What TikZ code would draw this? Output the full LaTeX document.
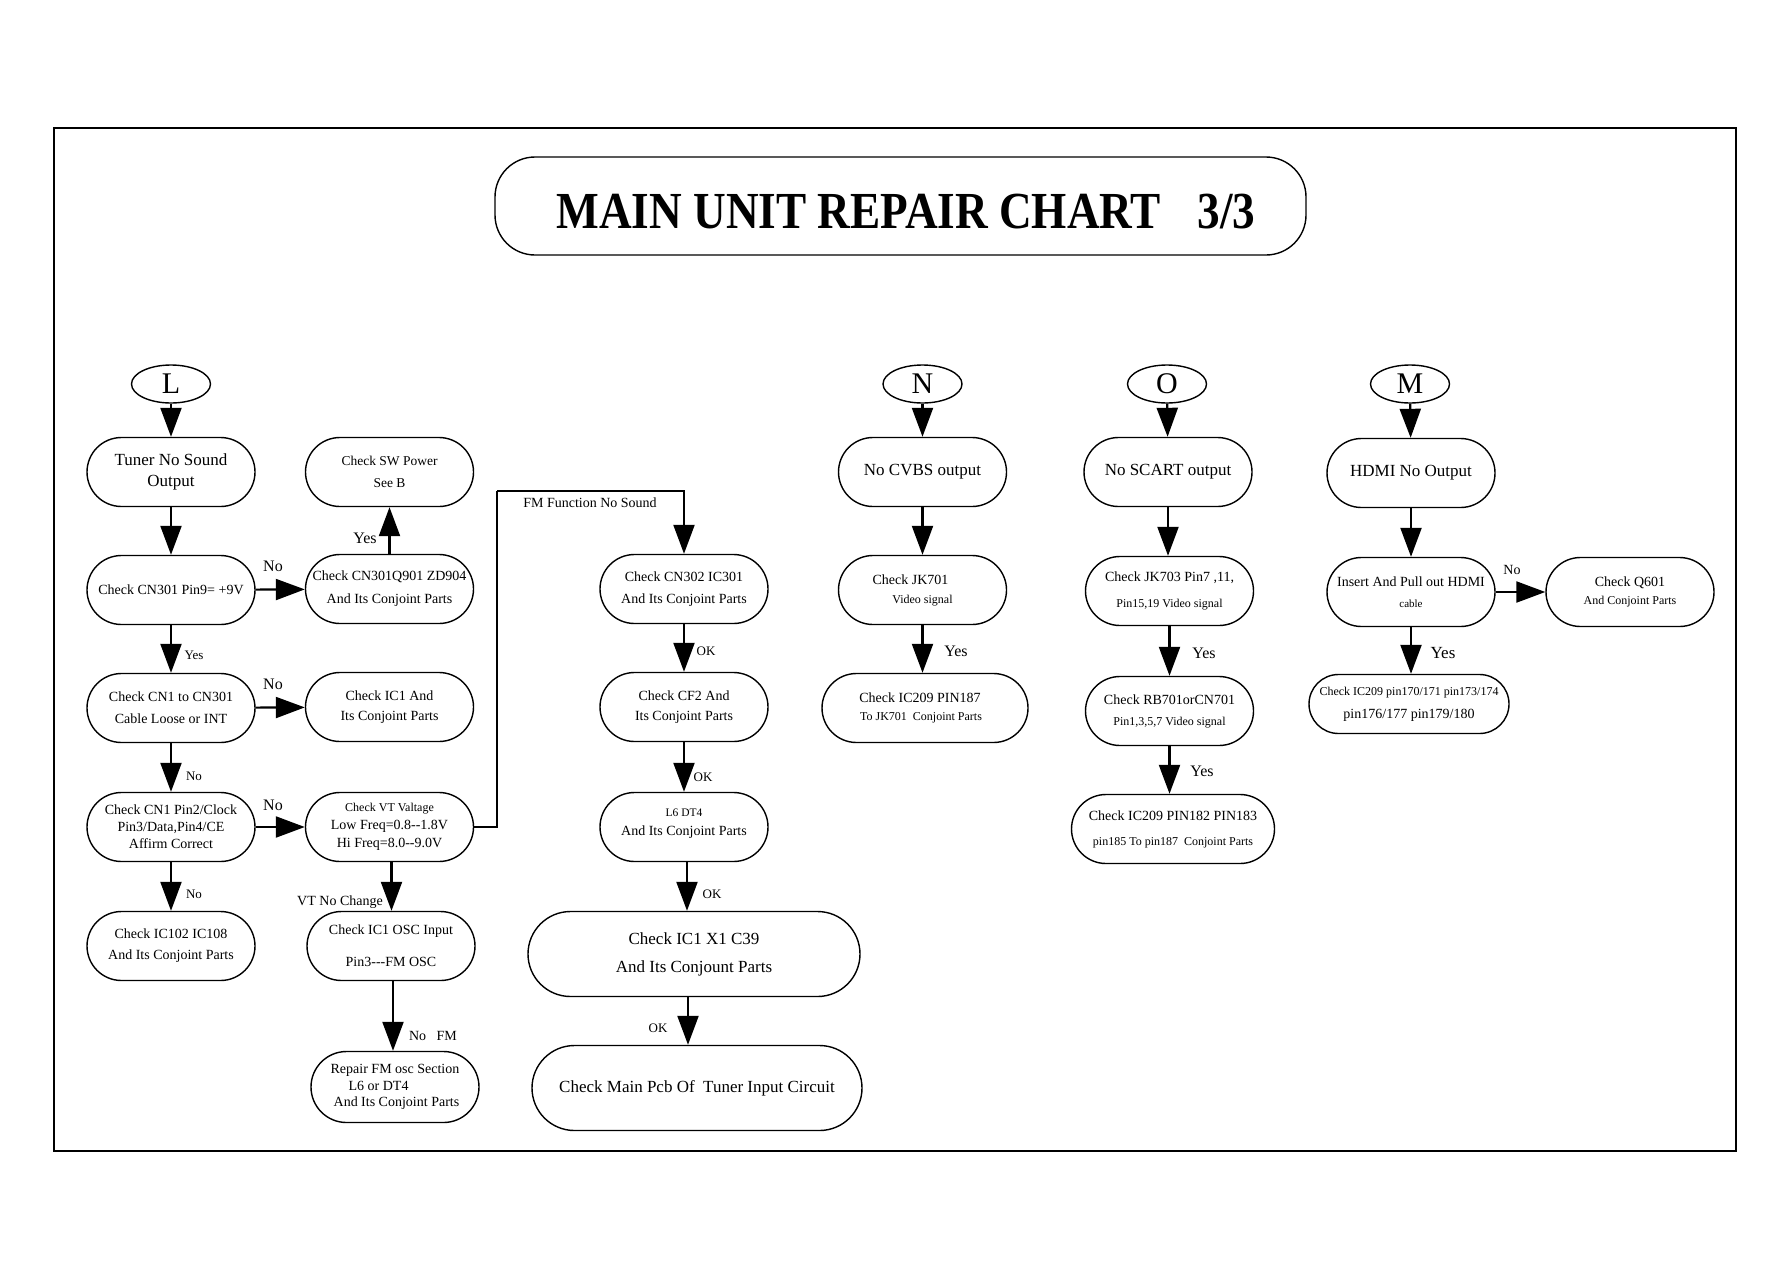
\documentclass[tikz,border=0pt]{standalone}
\usepackage{graphicx}
\usepackage{fontspec}
\setmainfont{Liberation Serif}
\usetikzlibrary{arrows.meta,shapes.geometric}
\newcommand{\fsz}[2]{\fontsize{#1}{#2}\selectfont}
\begin{document}
\begin{tikzpicture}[x=1pt,y=-1pt,
  box/.style={draw, line width=1.4pt, rounded corners=34.5pt, minimum width=168pt, minimum height=69pt, inner sep=0pt, align=center, font=\fsz{14}{21}},
  ell/.style={draw, ellipse, line width=1.4pt, minimum width=79pt, minimum height=38pt, inner sep=0pt, font=\fsz{30}{30}},
  arr/.style={line width=2.2pt, -{Triangle[length=29pt,width=21pt]}},
  conn/.style={line width=2.2pt},
  lbl/.style={inner sep=0pt, font=\fsz{16}{16}},
  slbl/.style={inner sep=0pt, font=\fsz{13}{13}},
]
\useasboundingbox (0,0) rectangle (1787,1263);
\fill[white] (0,0) rectangle (1787,1263);
\draw[line width=1.8pt] (54,128) rectangle (1736,1151);

% title
\node[draw, line width=1.4pt, rounded corners=40pt, minimum width=811pt, minimum height=98pt, inner sep=0pt] (title) at (900.5,206) {};
\node[anchor=base, inner sep=0pt] (titletext) at (906,228) {\scalebox{0.87}[1]{\fsz{52}{60}\bfseries MAIN UNIT REPAIR CHART\hspace{42pt}3/3}};

% column L
\node[ell] (L) at (171,384) {L};
\node[box, font=\fsz{17}{21}] (tuner) at (171,472) {Tuner No Sound\\Output};
\node[box] (cn301) at (171,590) {Check CN301 Pin9= +9V};
\node[box, font=\fsz{14}{22}] (cn1) at (171,708) {Check CN1 to CN301\\Cable Loose or INT};
\node[box, font=\fsz{14}{17}] (pin2) at (171,827) {Check CN1 Pin2/Clock\\Pin3/Data,Pin4/CE\\Affirm Correct};
\node[box, font=\fsz{14}{21}] (ic102) at (171,946) {Check IC102 IC108\\And Its Conjoint Parts};

% column 2
\node[box, font=\fsz{13.5}{22}] (sw) at (389.5,472) {Check SW Power\\See B};
\node[box, font=\fsz{14}{23}] (q901) at (389.5,589) {Check CN301Q901 ZD904\\And Its Conjoint Parts};
\node[box, font=\fsz{14}{20}] (ic1and) at (389.5,707) {Check IC1 And\\Its Conjoint Parts};
\node[box, font=\fsz{14}{18}] (vt) at (389.5,827) {{\fsz{12}{18}Check VT Valtage}\\Low Freq=0.8-{}-1.8V\\Hi Freq=8.0-{}-9.0V};
\node[box, font=\fsz{14}{32}] (osc) at (391,946) {Check IC1 OSC Input\\Pin3-{}-{}-FM OSC};
\node[box, minimum height=71pt, rounded corners=35.5pt, font=\fsz{14}{16.5}, align=left] (repair) at (395,1087) {Repair FM osc Section\\\hspace*{18pt}L6 or DT4\\\hspace*{3pt}And Its Conjoint Parts};

% FM column
\node[box, font=\fsz{14}{22}] (cn302) at (684,589) {Check CN302 IC301\\And Its Conjoint Parts};
\node[box, font=\fsz{14}{20}] (cf2) at (684,707) {Check CF2 And\\Its Conjoint Parts};
\node[box, font=\fsz{14}{19}] (l6) at (684,827) {{\fsz{11.5}{19}L6 DT4}\\And Its Conjoint Parts\\[-10pt]\mbox{}};
\node[box, minimum width=332pt, minimum height=85pt, rounded corners=42.5pt, font=\fsz{17}{28}] (x1) at (694,954) {Check IC1 X1 C39\\And Its Conjount Parts};
\node[box, minimum width=330pt, minimum height=85pt, rounded corners=42.5pt, font=\fsz{17}{28}] (mainpcb) at (697,1088) {Check Main Pcb Of\ \ Tuner Input Circuit};
\coordinate (fmA) at (497,491);

% N column
\node[ell] (N) at (922.5,384) {N};
\node[box, font=\fsz{17}{21}] (cvbs) at (922.5,472) {No CVBS output};
\node[box, font=\fsz{14}{19}] (jk701) at (922.5,590) {Check JK701\hspace*{24pt}\\{\fsz{12}{19}Video signal}};
\node[box, minimum width=206pt, font=\fsz{14}{18}] (ic187) at (925,708) {Check IC209 PIN187\hspace*{10pt}\\{\fsz{12}{18}To JK701\ \ Conjoint Parts}\hspace*{8pt}};

% O column
\node[ell] (O) at (1167,384) {O};
\node[box, font=\fsz{17}{21}] (scart) at (1168,472) {No SCART output};
\node[box, font=\fsz{14}{26}] (jk703) at (1169.5,591) {Check JK703 Pin7 ,11,\\{\fsz{12}{26}Pin15,19 Video signal}};
\node[box, font=\fsz{14}{21}] (rb701) at (1169.5,711) {Check RB701orCN701\\{\fsz{12}{21}Pin1,3,5,7 Video signal}};
\node[box, minimum width=203pt, font=\fsz{14}{25}] (pin182) at (1173,829) {Check IC209 PIN182 PIN183\\{\fsz{12}{25}pin185 To pin187\ \ Conjoint Parts}};

% M column
\node[ell] (M) at (1410,384) {M};
\node[box, font=\fsz{17}{21}] (hdmi) at (1411,473) {HDMI No Output};
\node[box, font=\fsz{14}{21}] (insert) at (1411,592) {Insert And Pull out HDMI\\{\fsz{11}{21}cable}};
\node[box, font=\fsz{14}{18}] (q601) at (1630,592) {Check Q601\\{\fsz{12}{18}And Conjoint Parts}};
\node[box, minimum width=200pt, minimum height=59pt, rounded corners=29.5pt, font=\fsz{14}{23}] (pin170) at (1409,704) {{\fsz{12}{23}Check IC209 pin170/171 pin173/174}\\pin176/177 pin179/180};

% connectors L
\draw[arr] (L) -- (tuner);
\draw[arr] (tuner) -- (cn301);
\draw[arr] (cn301) -- (cn1);
\draw[arr] (cn1) -- (pin2);
\draw[arr] (pin2) -- (ic102);
\draw[arr] (cn301) -- (q901);
\draw[arr] (q901) -- (sw);
\draw[arr] (cn1) -- (ic1and);
\draw[arr] (pin2) -- (vt);
\draw[arr] ([xshift=2pt]vt.south) -- ([xshift=2pt]vt.south |- osc.north);
\draw[arr] ([xshift=2pt]osc.south) -- ([xshift=2pt]osc.south |- repair.north);
\draw[conn] (vt.east) -| (fmA);
\draw[arr] (fmA) -| (cn302.north);
\draw[arr] (cn302) -- (cf2);
\draw[arr] (cf2) -- (l6);
\draw[arr] ([xshift=3pt]l6.south) -- ([xshift=3pt]l6.south |- x1.north);
\draw[arr] ([xshift=-6pt]x1.south) -- ([xshift=-6pt]x1.south |- mainpcb.north);

% N O M connectors
\draw[arr] (N) -- (cvbs);
\draw[arr] (cvbs) -- (jk701);
\draw[arr] (jk701.south) -- (jk701.south |- ic187.north);
\draw[arr] (O) -- (scart);
\draw[arr] (scart) -- (scart |- jk703.north);
\draw[arr] (jk703.south) -- (jk703.south |- rb701.north);
\draw[arr] (rb701.south) -- (rb701.south |- pin182.north);
\draw[arr] (M) -- (hdmi);
\draw[arr] (hdmi) -- (insert);
\draw[arr] (insert) -- (q601);
\draw[arr] (insert.south) -- (insert.south |- pin170.north);

% labels
\node[lbl] (lb1) at (273,566) {No};
\node[lbl] (lb2) at (365,538) {Yes};
\node[slbl] (lb3) at (194,655) {Yes};
\node[lbl] (lb4) at (273,684) {No};
\node[slbl] (lb5) at (194,776) {No};
\node[lbl] (lb6) at (273,805) {No};
\node[slbl] (lb7) at (194,894) {No};
\node[inner sep=0pt, font=\fsz{14}{14}] (lb8) at (340,902) {VT No Change};
\node[inner sep=0pt, font=\fsz{14}{14}] (lb9) at (433,1036) {No\ \ \ FM};
\node[inner sep=0pt, font=\fsz{14}{14}] (lb10) at (590,503) {FM Function No Sound};
\node[slbl] (lb11) at (706,651) {OK};
\node[slbl] (lb12) at (703,777) {OK};
\node[slbl] (lb13) at (712,894) {OK};
\node[slbl] (lb14) at (658,1028) {OK};
\node[lbl] (lb15) at (956,651) {Yes};
\node[lbl] (lb16) at (1204,653) {Yes};
\node[lbl] (lb17) at (1202,771) {Yes};
\node[inner sep=0pt, font=\fsz{14}{14}] (lb18) at (1512,570) {No};
\node[inner sep=0pt, font=\fsz{17}{17}] (lb19) at (1443,653) {Yes};
\end{tikzpicture}
\end{document}
